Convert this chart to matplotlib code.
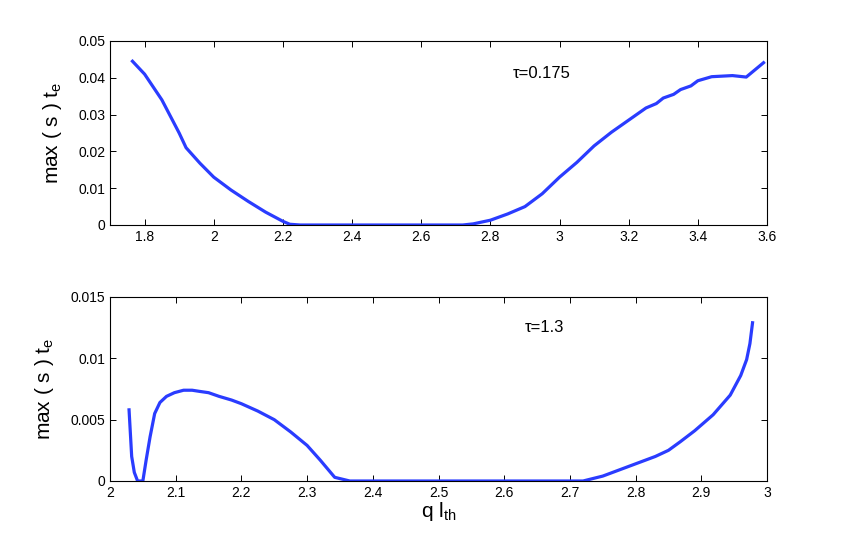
import matplotlib
matplotlib.use("Agg")
import matplotlib.pyplot as plt

plt.rcParams['font.family'] = ['Liberation Sans', 'DejaVu Sans']
plt.rcParams['mathtext.fontset'] = 'custom'
plt.rcParams['mathtext.rm'] = 'Liberation Sans'
plt.rcParams['mathtext.it'] = 'Liberation Sans'

# Top panel (tau = 0.175)
x_top = [1.765, 1.80, 1.85, 1.90, 1.92, 1.96, 2.00, 2.05, 2.10, 2.15, 2.20, 2.22, 2.25,
         2.30, 2.40, 2.50, 2.60, 2.70, 2.72, 2.75, 2.80, 2.85, 2.90, 2.95, 3.00, 3.05,
         3.10, 3.15, 3.20, 3.25, 3.28, 3.30, 3.33, 3.35, 3.38, 3.40, 3.44, 3.50, 3.54, 3.59]
y_top = [0.0445, 0.0410, 0.0340, 0.0250, 0.0210, 0.0168, 0.0130, 0.0095, 0.0064, 0.0035,
         0.0010, 0.0002, 0.0, 0.0, 0.0, 0.0, 0.0, 0.0, 0.0, 0.0003, 0.0013, 0.0030, 0.0050,
         0.0085, 0.0130, 0.0170, 0.0215, 0.0252, 0.0285, 0.0318, 0.0330, 0.0345, 0.0355,
         0.0368, 0.0378, 0.0392, 0.0403, 0.0406, 0.0402, 0.0441]

# Bottom panel (tau = 1.3)
x_bot = [2.029, 2.033, 2.037, 2.042, 2.050, 2.055, 2.061, 2.068, 2.076, 2.086, 2.098, 2.112,
         2.125, 2.137, 2.150, 2.166, 2.185, 2.200, 2.225, 2.250, 2.275, 2.300, 2.320, 2.342,
         2.365, 2.40, 2.50, 2.60, 2.70, 2.72, 2.75, 2.78, 2.80, 2.83, 2.85, 2.868, 2.89,
         2.918, 2.944, 2.960, 2.969, 2.974, 2.978]
y_bot = [0.0058, 0.0020, 0.0007, 0.0, 0.0, 0.0017, 0.0036, 0.0055, 0.0064, 0.0069, 0.0072,
         0.0074, 0.0074, 0.0073, 0.0072, 0.0069, 0.0066, 0.0063, 0.0057, 0.0050, 0.0040,
         0.0029, 0.0017, 0.0003, 0.0, 0.0, 0.0, 0.0, 0.0, 0.0, 0.0004, 0.0010, 0.0014,
         0.0020, 0.0025, 0.0032, 0.0041, 0.0054, 0.0070, 0.0086, 0.0099, 0.0112, 0.0129]

top_xticks = [1.8, 2.0, 2.2, 2.4, 2.6, 2.8, 3.0, 3.2, 3.4, 3.6]
top_xlabels = ['1.8', '2', '2.2', '2.4', '2.6', '2.8', '3', '3.2', '3.4', '3.6']
top_yticks = [0, 0.01, 0.02, 0.03, 0.04, 0.05]
top_ylabels = ['0', '0.01', '0.02', '0.03', '0.04', '0.05']
bot_xticks = [2.0, 2.1, 2.2, 2.3, 2.4, 2.5, 2.6, 2.7, 2.8, 2.9, 3.0]
bot_xlabels = ['2', '2.1', '2.2', '2.3', '2.4', '2.5', '2.6', '2.7', '2.8', '2.9', '3']
bot_yticks = [0, 0.005, 0.01, 0.015]
bot_ylabels = ['0', '0.005', '0.01', '0.015']

line_color = '#2a3cff'
W, H = 847, 541
fig = plt.figure(figsize=(W / 100, H / 100), dpi=100)

ax1 = fig.add_axes([110 / W, 1 - 225 / H, (767 - 110) / W, (225 - 41) / H])
ax2 = fig.add_axes([110 / W, 1 - 481 / H, (767 - 110) / W, (481 - 297) / H])

for ax in (ax1, ax2):
    ax.tick_params(direction='in', length=4, width=0.7, labelsize=10, top=True, right=True,
                   labeltop=False, labelright=False)
    for s in ax.spines.values():
        s.set_linewidth(0.8)

ax1.plot(x_top, y_top, color=line_color, lw=2.3)
ax1.set_xlim(1.7, 3.6)
ax1.set_ylim(0, 0.05)
ax1.set_xticks(top_xticks)
ax1.set_xticklabels(top_xlabels)
ax1.set_yticks(top_yticks)
ax1.set_yticklabels(top_ylabels)
ax1.set_ylabel(r'max ( s ) t$_{\mathrm{e}}$', fontsize=15, labelpad=10)
ax1.text(2.864, 0.0413, 'τ=0.175', fontsize=12, va='center', ha='left')

ax2.plot(x_bot, y_bot, color=line_color, lw=2.3)
ax2.set_xlim(2.0, 3.0)
ax2.set_ylim(0, 0.015)
ax2.set_xticks(bot_xticks)
ax2.set_xticklabels(bot_xlabels)
ax2.set_yticks(bot_yticks)
ax2.set_yticklabels(bot_ylabels)
ax2.set_ylabel(r'max ( s ) t$_{\mathrm{e}}$', fontsize=15, labelpad=10)
ax2.set_xlabel(r'q l$_{\mathrm{th}}$', fontsize=15, labelpad=0)
ax2.text(2.632, 0.0125, 'τ=1.3', fontsize=12, va='center', ha='left')

fig.savefig('out.png', dpi=100)
